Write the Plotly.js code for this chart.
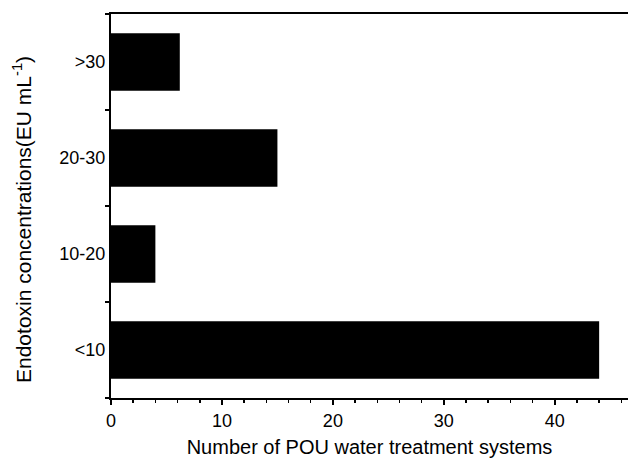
<!DOCTYPE html>
<html>
<head>
<meta charset="utf-8">
<script src="https://cdn.plot.ly/plotly-3.0.1.min.js"></script>
<style>html,body{margin:0;padding:0;background:#fff;}#chart{width:628px;height:458px;}</style>
</head>
<body>
<div id="chart"></div>
<script>
var categories = ['<10', '10-20', '20-30', '>30'];
var counts = [44, 4, 15, 6.2];
var xTickVals = [0, 10, 20, 30, 40];
var xTitle = 'Number of POU water treatment systems';
var yTitle = 'Endotoxin concentrations(EU mL<sup>-1</sup>)';

var trace = {
  type: 'bar',
  orientation: 'h',
  y: categories,
  x: counts,
  width: 0.6,
  marker: {color: '#000000', line: {width: 0}},
  hoverinfo: 'x+y'
};

var font = {family: 'Liberation Sans, Arial, sans-serif', color: '#000', size: 18};

var layout = {
  width: 628,
  height: 458,
  margin: {l: 111, r: 0, t: 14, b: 60},
  paper_bgcolor: '#fff',
  plot_bgcolor: '#fff',
  font: font,
  showlegend: false,
  xaxis: {
    range: [0, 46.6],
    tickvals: xTickVals,
    ticks: 'outside',
    ticklen: 5,
    tickwidth: 2,
    tickcolor: '#000',
    showline: true,
    linecolor: '#000',
    linewidth: 2,
    mirror: true,
    showgrid: false,
    zeroline: false,
    tickfont: {size: 18},
    minor: {dtick: 2, ticks: 'outside', ticklen: 3, tickwidth: 1.5, tickcolor: '#000', showgrid: false},
    title: {text: xTitle, font: {size: 20}, standoff: 10}
  },
  yaxis: {
    type: 'category',
    categoryorder: 'array',
    categoryarray: categories,
    tickson: 'boundaries',
    ticks: 'outside',
    ticklen: 4,
    tickwidth: 2,
    tickcolor: '#000',
    showline: true,
    linecolor: '#000',
    linewidth: 2,
    showgrid: false,
    zeroline: false,
    tickfont: {size: 18}
  },
  annotations: [{
    text: yTitle,
    xref: 'paper', yref: 'paper',
    x: (22 - 111) / 517, y: (398 - 220) / 384,
    xanchor: 'center', yanchor: 'middle',
    textangle: -90,
    showarrow: false,
    font: {size: 21, color: '#000'}
  }],
  bargap: 0.4
};

Plotly.newPlot('chart', [trace], layout, {displayModeBar: false, staticPlot: true});
</script>
</body>
</html>
